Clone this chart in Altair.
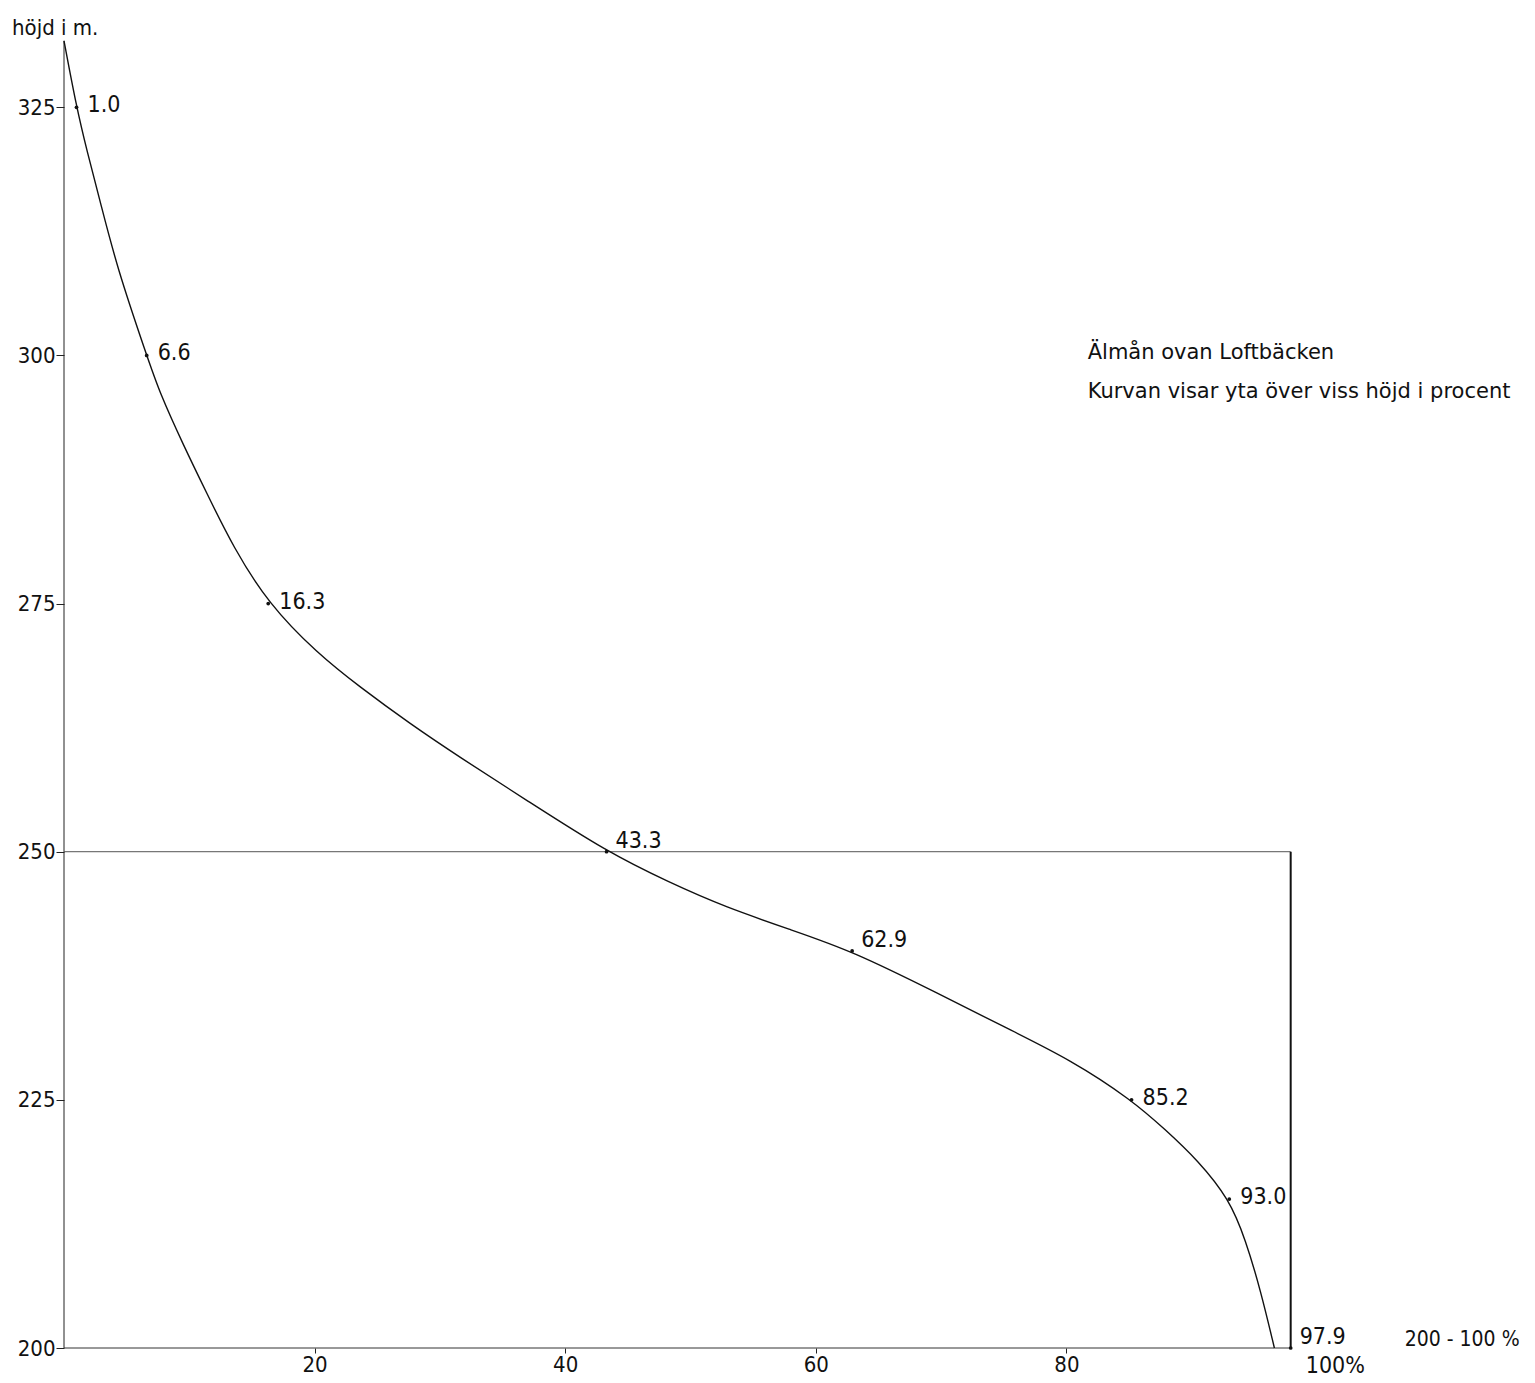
import altair as alt
import pandas as pd

# Hypsographic curve: area above a given height (%) vs height (m)
curve_pct = [0.0, 1.0, 1.83, 2.87, 4.22, 6.6, 7.65, 9.48, 11.4, 13.5, 16.3, 20.2, 23.6,
             27.6, 31.6, 36.9, 43.3, 48.3, 52.8, 58.1, 62.9, 69.8, 75.1, 80.4, 85.2,
             87.9, 90.5, 93.0, 94.3, 95.5, 96.6]
curve_hgt = [331.7, 325, 320.6, 315.6, 308.9, 300, 296.2, 291.1, 286.1, 280.7, 275, 270.0,
             266.6, 262.9, 259.5, 255.2, 250, 246.9, 244.4, 242.1, 240, 235.7, 232.3,
             229.0, 225, 222.0, 218.9, 215, 210.9, 205.8, 200]

# Marked points with their labels
pt_pct = [1.0, 6.6, 16.3, 43.3, 62.9, 85.2, 93.0, 97.9]
pt_hgt = [325, 300, 275, 250, 240, 225, 215, 200]
pt_lbl = ["1.0", "6.6", "16.3", "43.3", "62.9", "85.2", "93.0", "97.9"]
pt_above = [False, False, False, True, True, False, False, True]

y_ticks = [200, 225, 250, 275, 300, 325]
x_ticks = [20, 40, 60, 80]

# frame lines: y axis, base line, 250 m line, right edge at 97.9 %
rule_x = [0, 0, 0, 97.9]
rule_x2 = [0, 97.9, 97.9, 97.9]
rule_y = [200, 200, 250, 200]
rule_y2 = [331.7, 200, 250, 250]
rule_w = [1, 1, 1, 2]
rule_c = ["#222", "#333", "#555", "#111"]

ann_text = ["höjd i m.", "200 - 100 %", "100%"]
ann_x = [-4.15, 107.0, 99.1]
ann_y = [333.0, 200.8, 198.2]
ann_size = [22, 21, 23]

title_text = ["Älmån  ovan Loftbäcken", "Kurvan  visar yta över viss  höjd i procent"]
title_x = [81.7, 81.7]
title_y = [300.2, 296.3]

FONT = "'Liberation Sans Narrow', 'DejaVu Sans Condensed', 'Roboto Condensed', sans-serif"
XMAX = 116.76
YMAX = 335

curve = pd.DataFrame({"pct": curve_pct, "h": curve_hgt})
pts = pd.DataFrame({"pct": pt_pct, "h": pt_hgt, "lbl": pt_lbl, "above": pt_above})
rules = pd.DataFrame({"x": rule_x, "x2": rule_x2, "y": rule_y, "y2": rule_y2,
                      "w": rule_w, "c": rule_c})
ann = pd.DataFrame({"t": ann_text, "x": ann_x, "y": ann_y, "s": ann_size})
ttl = pd.DataFrame({"t": title_text, "x": title_x, "y": title_y})

xs = alt.Scale(domain=[0, XMAX], nice=False, zero=False)
ys = alt.Scale(domain=[200, YMAX], nice=False, zero=False)

x_axis = alt.Axis(values=x_ticks, title=None, domain=False, grid=False, tickSize=5,
                  tickColor="#222", labelFont=FONT, labelFontSize=22, labelColor="#111",
                  labelPadding=1)
y_axis = alt.Axis(values=y_ticks, title=None, domain=False, grid=False, tickSize=8,
                  tickColor="#222", labelFont=FONT, labelFontSize=22, labelColor="#111",
                  labelPadding=1)

base_line = alt.Chart(curve).mark_line(interpolate="basis", color="#111", strokeWidth=1.4).encode(
    x=alt.X("pct:Q", scale=xs, axis=x_axis),
    y=alt.Y("h:Q", scale=ys, axis=y_axis),
)

rule_layer = alt.Chart(rules).mark_rule().encode(
    x=alt.X("x:Q", scale=xs), x2="x2:Q",
    y=alt.Y("y:Q", scale=ys), y2="y2:Q",
    strokeWidth=alt.StrokeWidth("w:Q", scale=None),
    color=alt.Color("c:N", scale=None),
)

point_layer = alt.Chart(pts).mark_point(filled=True, color="#111", size=14, opacity=1).encode(
    x=alt.X("pct:Q", scale=xs), y=alt.Y("h:Q", scale=ys),
)

lbl_side = alt.Chart(pts).transform_filter("!datum.above").mark_text(
    align="left", baseline="middle", dx=11, dy=-2, font=FONT, fontSize=23, color="#111"
).encode(x=alt.X("pct:Q", scale=xs), y=alt.Y("h:Q", scale=ys), text="lbl:N")

lbl_above = alt.Chart(pts).transform_filter("datum.above").mark_text(
    align="left", baseline="middle", dx=9, dy=-11, font=FONT, fontSize=23, color="#111"
).encode(x=alt.X("pct:Q", scale=xs), y=alt.Y("h:Q", scale=ys), text="lbl:N")

ann_layer = alt.Chart(ann).mark_text(
    align="left", baseline="middle", font=FONT, color="#111"
).encode(
    x=alt.X("x:Q", scale=xs), y=alt.Y("y:Q", scale=ys), text="t:N",
    size=alt.Size("s:Q", scale=None),
)

title_layer = alt.Chart(ttl).mark_text(
    align="left", baseline="middle", font="'DejaVu Sans', sans-serif", fontSize=21, color="#111"
).encode(x=alt.X("x:Q", scale=xs), y=alt.Y("y:Q", scale=ys), text="t:N")

chart = alt.layer(
    rule_layer, base_line, point_layer, lbl_side, lbl_above, ann_layer, title_layer
).properties(
    width=1463, height=1340,
    autosize=alt.AutoSizeParams(type="none"),
    padding={"left": 56, "top": 0, "right": 0, "bottom": 31},
    background="white",
).configure_view(stroke=None)

chart.save("out.html", embed_options={"renderer": "svg", "actions": False})
